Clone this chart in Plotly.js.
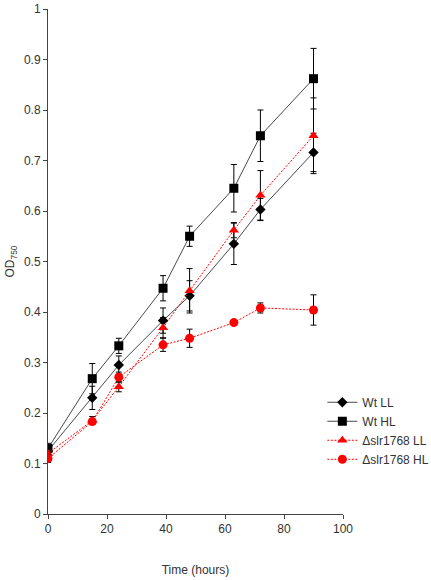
<!DOCTYPE html>
<html><head><meta charset="utf-8">
<script src="https://cdn.plot.ly/plotly-3.0.1.min.js"></script>
<style>html,body{margin:0;padding:0;background:#fff}#chart{width:431px;height:580px}</style>
</head><body><div id="chart"></div>
<script>
const time = [0, 15, 24, 39, 48, 63, 72, 90];
const wtLL = [0.125, 0.230, 0.295, 0.383, 0.432, 0.535, 0.603, 0.716];
const wtLLerr = [0.010, 0.023, 0.018, 0.025, 0.030, 0.041, 0.022, 0.038];
const wtHL = [0.130, 0.268, 0.333, 0.447, 0.550, 0.645, 0.749, 0.862];
const wtHLerr = [0.010, 0.030, 0.015, 0.025, 0.020, 0.047, 0.051, 0.060];
const mutLL = [0.120, 0.185, 0.252, 0.369, 0.442, 0.562, 0.631, 0.749];
const mutLLerr = [0.010, 0.008, 0.010, 0.020, 0.044, 0.015, 0.049, 0.075];
const mutHL = [0.110, 0.183, 0.271, 0.335, 0.348, 0.379, 0.408, 0.404];
const mutHLerr = [0.008, 0.005, 0.010, 0.013, 0.018, 0.004, 0.010, 0.030];
const names = ['Wt LL', 'Wt HL', '\u0394slr1768 LL', '\u0394slr1768 HL'];

const err = a => ({type:'data', array:a, visible:true, color:'#000', thickness:1, width:3});
const gray = '#4a4a4a', red = '#ff0000';
const traces = [
  {x:time, y:wtLL, name:names[0], mode:'lines+markers', error_y:err(wtLLerr),
   line:{color:gray, width:1}, marker:{symbol:'diamond', size:8, color:'#000'}},
  {x:time, y:wtHL, name:names[1], mode:'lines+markers', error_y:err(wtHLerr),
   line:{color:gray, width:1}, marker:{symbol:'square', size:9, color:'#000'}},
  {x:time, y:mutLL, name:names[2], mode:'lines+markers', error_y:err(mutLLerr),
   line:{color:red, width:1, dash:'2px,1.5px'}, marker:{symbol:'triangle-up', size:9, color:red}},
  {x:time, y:mutHL, name:names[3], mode:'lines+markers', error_y:err(mutHLerr),
   line:{color:red, width:1, dash:'2px,1.5px'}, marker:{symbol:'circle', size:9, color:red}}
];
const axfont = {family:'Liberation Sans, Arial, sans-serif', size:12, color:'#333'};
const layout = {
  width:431, height:580,
  margin:{l:48, r:88, t:9, b:66, autoexpand:false},
  paper_bgcolor:'#fff', plot_bgcolor:'#fff',
  font:axfont,
  showlegend:true,
  legend:{x:0.93, xanchor:'left', y:0.25, yanchor:'top', bgcolor:'rgba(0,0,0,0)',
          font:axfont, tracegroupgap:0, itemwidth:30},
  xaxis:{range:[0,100], tickvals:[0,20,40,60,80,100], showgrid:false, zeroline:false,
         showline:true, linecolor:'#444', linewidth:1, ticks:'outside', ticklen:4,
         tickcolor:'#444', tickfont:axfont,
         title:{text:'Time (hours)', font:axfont, standoff:30}},
  yaxis:{range:[0,1], tickvals:[0,0.1,0.2,0.3,0.4,0.5,0.6,0.7,0.8,0.9,1],
         ticktext:['0','0.1','0.2','0.3','0.4','0.5','0.6','0.7','0.8','0.9','1'],
         showgrid:false, zeroline:false,
         showline:true, linecolor:'#444', linewidth:1, ticks:'outside', ticklen:4,
         tickcolor:'#444', tickfont:axfont,
         title:{text:'OD<sub>750</sub>', font:axfont, standoff:6}}
};
Plotly.newPlot('chart', traces, layout, {displayModeBar:false, staticPlot:true});
</script></body></html>
